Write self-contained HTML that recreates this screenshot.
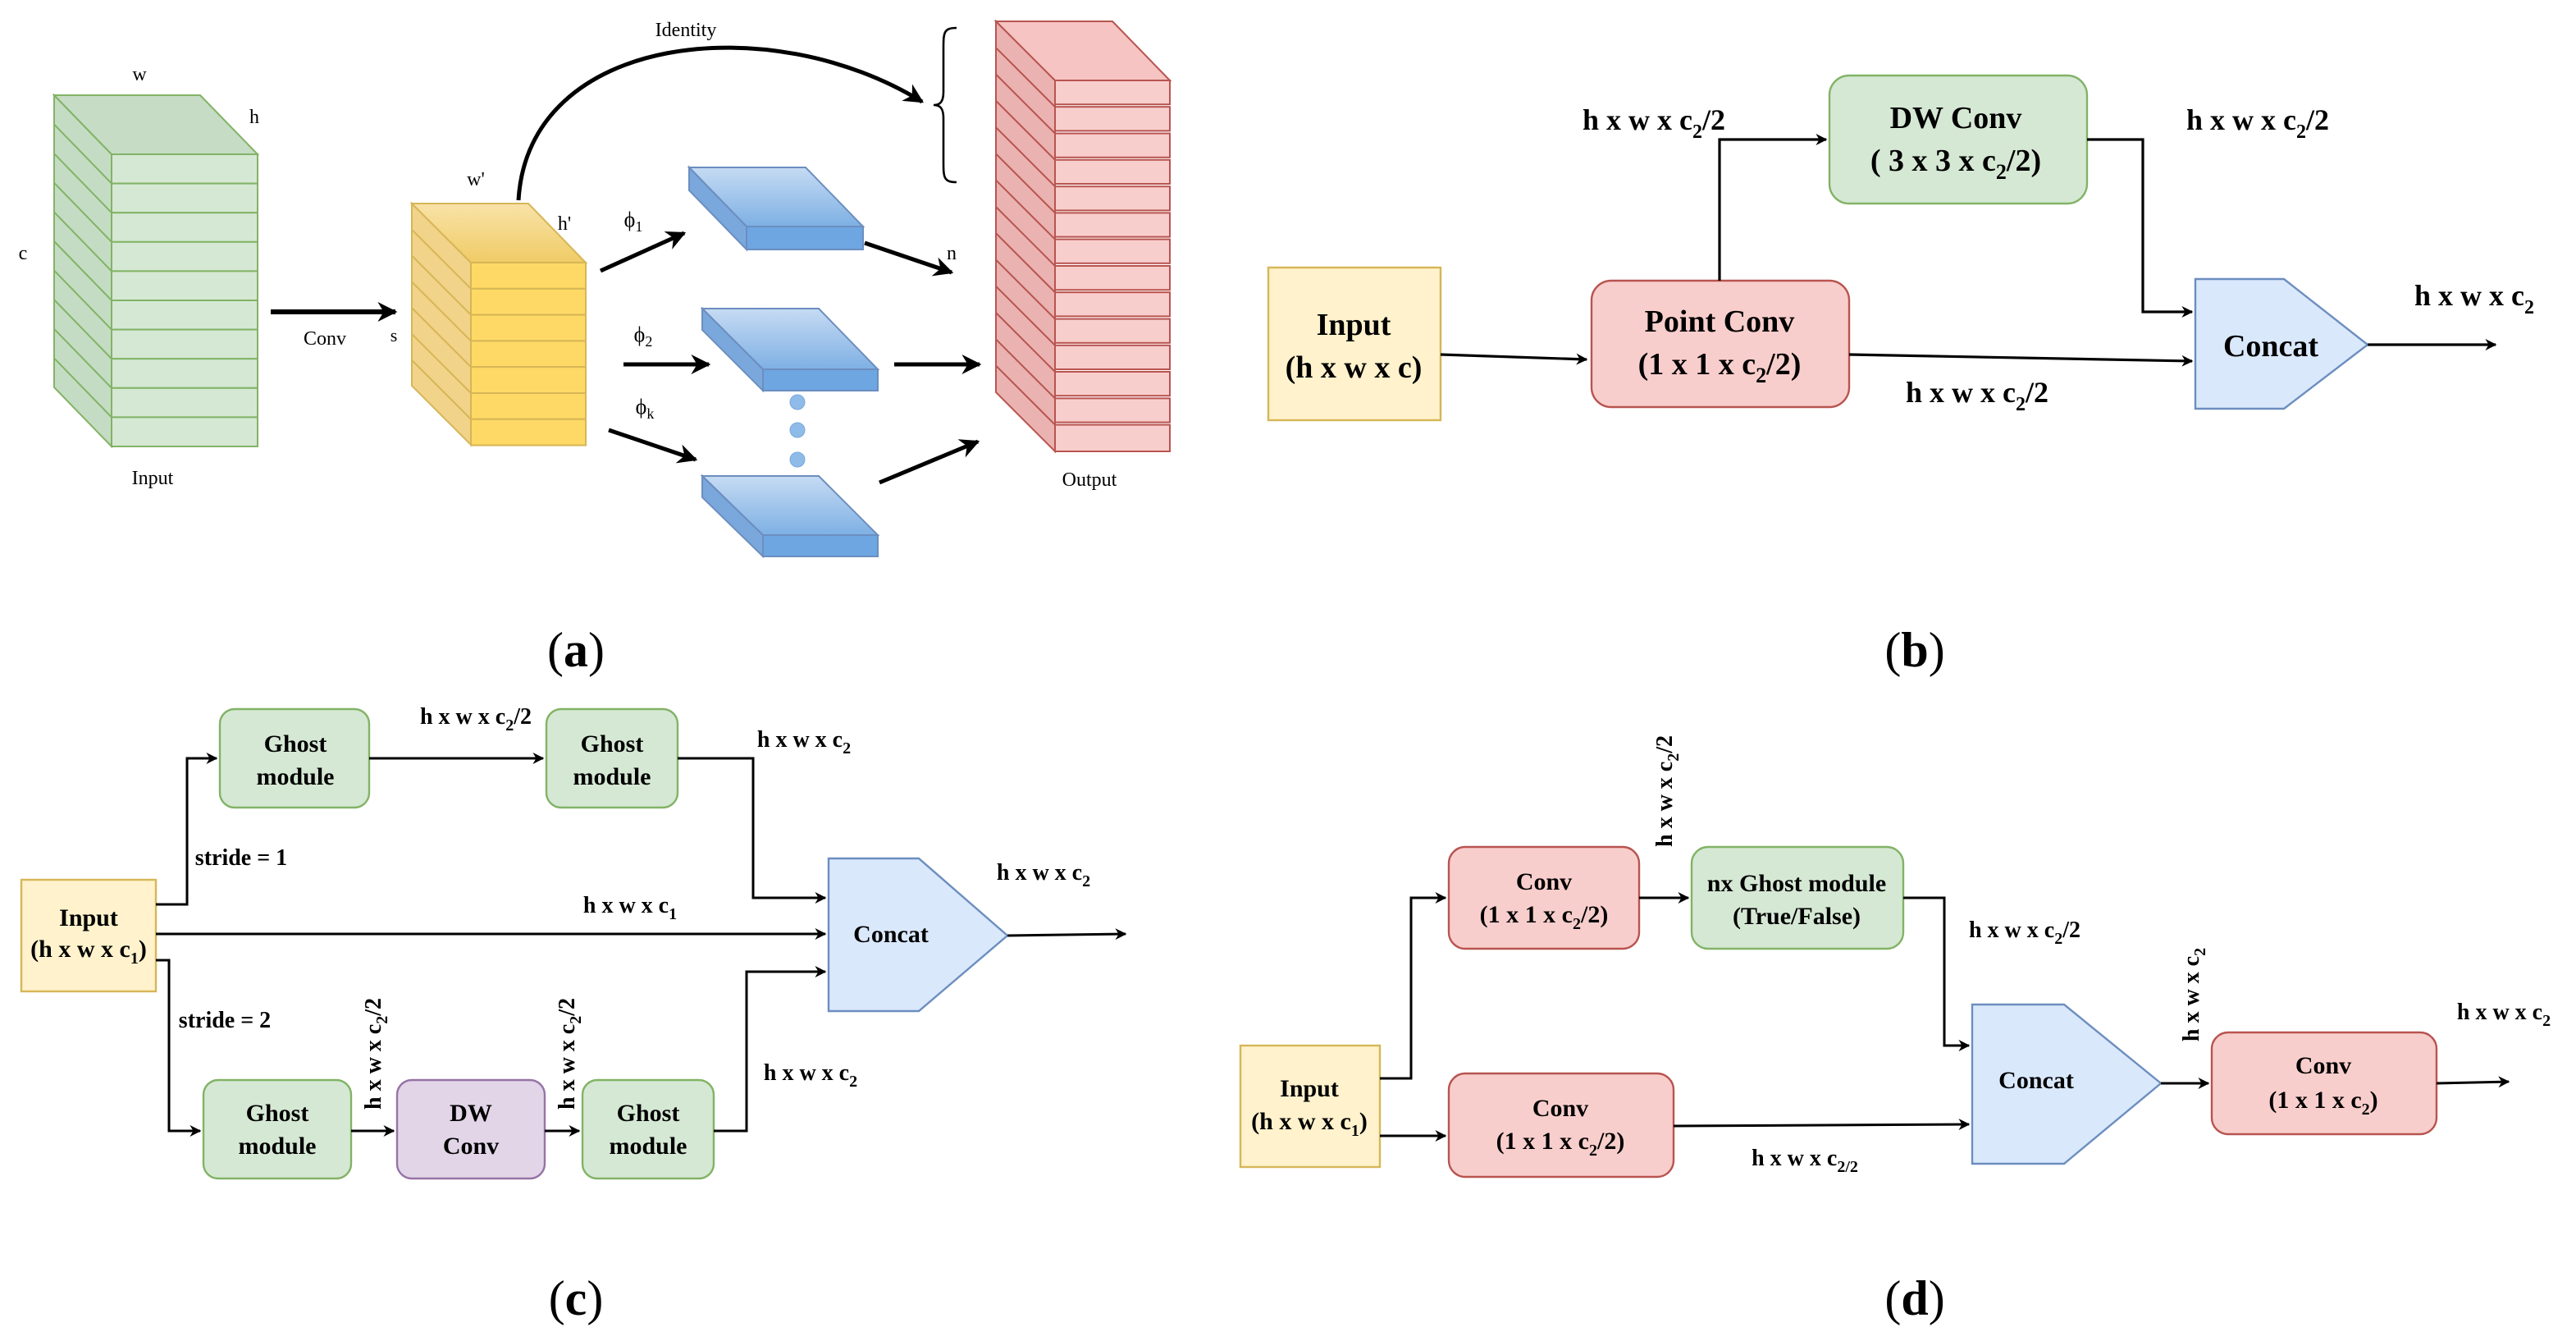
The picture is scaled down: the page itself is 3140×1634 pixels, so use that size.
<!DOCTYPE html>
<html><head><meta charset="utf-8"><style>
html,body{margin:0;padding:0;background:#fff;}
svg{display:block;}
text{font-family:"Liberation Serif",serif;}
.b{font-weight:bold;}
</style></head><body>
<svg width="3140" height="1634" viewBox="0 0 1570 817" xmlns="http://www.w3.org/2000/svg">
<defs>
<marker id="ar" viewBox="0 0 10 10" refX="9" refY="5" markerWidth="7" markerHeight="7" orient="auto" markerUnits="userSpaceOnUse"><path d="M0,0 L10,5 L0,10 L3,5 z" fill="#000"/></marker>
<marker id="ab" viewBox="0 0 10 10" refX="9" refY="5" markerWidth="12" markerHeight="12" orient="auto" markerUnits="userSpaceOnUse"><path d="M0,0 L10,5 L0,10 L3,5 z" fill="#000"/></marker>
<linearGradient id="bl" x1="0" y1="0" x2="0" y2="1"><stop offset="0" stop-color="#c6dbf3"/><stop offset="1" stop-color="#7eb0e4"/></linearGradient>
<linearGradient id="yl" x1="0" y1="0" x2="0" y2="1"><stop offset="0" stop-color="#f8e2a8"/><stop offset="1" stop-color="#f0cc66"/></linearGradient>
</defs>

<!-- ========== (a) ========== -->
<g stroke="#82b366" stroke-width="1" fill="#d5e8d4">
<polygon points="33,58 68,94 68,272 33,236" fill="#c5dcc4"/>
<polygon points="33,58 122,58 157,94 68,94" fill="#c6dcc5"/>
<rect x="68" y="94" width="89" height="17.8"/><rect x="68" y="111.8" width="89" height="17.8"/><rect x="68" y="129.6" width="89" height="17.8"/><rect x="68" y="147.4" width="89" height="17.8"/><rect x="68" y="165.2" width="89" height="17.8"/><rect x="68" y="183" width="89" height="17.8"/><rect x="68" y="200.8" width="89" height="17.8"/><rect x="68" y="218.6" width="89" height="17.8"/><rect x="68" y="236.4" width="89" height="17.8"/><rect x="68" y="254.2" width="89" height="17.8"/>
<path d="M33,75.8 L68,111.8 M33,93.6 L68,129.6 M33,111.4 L68,147.4 M33,129.2 L68,165.2 M33,147 L68,183 M33,164.8 L68,200.8 M33,182.6 L68,218.6 M33,200.4 L68,236.4 M33,218.2 L68,254.2" fill="none"/>
</g>
<text x="85" y="49" font-size="12" text-anchor="middle">w</text>
<text x="155" y="75" font-size="12" text-anchor="middle">h</text>
<text x="14" y="158" font-size="12" text-anchor="middle">c</text>
<text x="93" y="295" font-size="12" text-anchor="middle">Input</text>

<line x1="165" y1="190" x2="241" y2="190" stroke="#000" stroke-width="3" marker-end="url(#ab)"/>
<text x="198" y="210" font-size="12" text-anchor="middle">Conv</text>
<text x="240" y="208" font-size="11" text-anchor="middle">s</text>

<g stroke="#d6b656" stroke-width="1" fill="#ffd966">
<polygon points="251,124 287,160 287,271 251,235" fill="#f2d38a"/>
<polygon points="251,124 322,124 357,160 287,160" fill="url(#yl)"/>
<rect x="287" y="160" width="70" height="15.9"/><rect x="287" y="175.9" width="70" height="15.9"/><rect x="287" y="191.8" width="70" height="15.9"/><rect x="287" y="207.7" width="70" height="15.9"/><rect x="287" y="223.6" width="70" height="15.9"/><rect x="287" y="239.5" width="70" height="15.9"/><rect x="287" y="255.4" width="70" height="15.9"/>
<path d="M251,139.9 L287,175.9 M251,155.8 L287,191.8 M251,171.7 L287,207.7 M251,187.6 L287,223.6 M251,203.5 L287,239.5 M251,219.4 L287,255.4" fill="none"/>
</g>
<text x="290" y="113" font-size="12" text-anchor="middle">w'</text>
<text x="344" y="140" font-size="12" text-anchor="middle">h'</text>

<path d="M316,122 C322,20 470,5 562,62" fill="none" stroke="#000" stroke-width="2.5" marker-end="url(#ab)"/>
<text x="418" y="22" font-size="12" text-anchor="middle">Identity</text>
<path d="M583,17 C575,17 575,20 575,30 L575,56 C575,62 573,64 569,64 C573,64 575,66 575,72 L575,98 C575,108 575,111 583,111" fill="none" stroke="#000" stroke-width="1.3"/>

<!-- blue plates -->
<g stroke="#6c8ebf" stroke-width="1">
<polygon points="420,102 491,102 526,138 455,138" fill="url(#bl)"/><polygon points="420,102 455,138 455,152 420,116" fill="#7aa8dc"/><rect x="455" y="138" width="71" height="14" fill="#6ea6e2"/>
<polygon points="428,188 499,188 535,225 465,225" fill="url(#bl)"/><polygon points="428,188 465,225 465,238 428,201" fill="#7aa8dc"/><rect x="465" y="225" width="70" height="13" fill="#6ea6e2"/>
<polygon points="428,290 499,290 535,326 465,326" fill="url(#bl)"/><polygon points="428,290 465,326 465,339 428,303" fill="#7aa8dc"/><rect x="465" y="326" width="70" height="13" fill="#6ea6e2"/>
</g>
<g fill="#8fbbe8" stroke="#7aa8dc" stroke-width="0.5"><circle cx="486" cy="245" r="4.5"/><circle cx="486" cy="262" r="4.5"/><circle cx="486" cy="280" r="4.5"/></g>

<g stroke="#000" stroke-width="2.5" fill="none">
<line x1="366" y1="165" x2="417" y2="142" marker-end="url(#ab)"/>
<line x1="527" y1="148" x2="580" y2="166" marker-end="url(#ab)"/>
<line x1="380" y1="222" x2="432" y2="222" marker-end="url(#ab)"/>
<line x1="545" y1="222" x2="597" y2="222" marker-end="url(#ab)"/>
<line x1="371" y1="262" x2="424" y2="280" marker-end="url(#ab)"/>
<line x1="536" y1="294" x2="596" y2="269" marker-end="url(#ab)"/>
</g>
<text x="386" y="138" font-size="13" text-anchor="middle">ϕ<tspan font-size="9" dy="3">1</tspan></text>
<text x="392" y="208" font-size="13" text-anchor="middle">ϕ<tspan font-size="9" dy="3">2</tspan></text>
<text x="393" y="252" font-size="13" text-anchor="middle">ϕ<tspan font-size="9" dy="3">k</tspan></text>
<text x="580" y="158" font-size="12" text-anchor="middle">n</text>

<g stroke="#b85450" stroke-width="1" fill="#f8cecc">
<polygon points="607,13 643,49 643,275 607,239" fill="#eab3b1"/>
<polygon points="607,13 678,13 713,49 643,49" fill="#f6c4c2"/>
<rect x="643" y="49" width="70" height="14.6"/><rect x="643" y="65.1" width="70" height="14.6"/><rect x="643" y="81.3" width="70" height="14.6"/><rect x="643" y="97.4" width="70" height="14.6"/><rect x="643" y="113.6" width="70" height="14.6"/><rect x="643" y="129.7" width="70" height="14.6"/><rect x="643" y="145.8" width="70" height="14.6"/><rect x="643" y="162" width="70" height="14.6"/><rect x="643" y="178.1" width="70" height="14.6"/><rect x="643" y="194.3" width="70" height="14.6"/><rect x="643" y="210.4" width="70" height="14.6"/><rect x="643" y="226.5" width="70" height="14.6"/><rect x="643" y="242.7" width="70" height="14.6"/><rect x="643" y="258.8" width="70" height="16.2"/>
<path d="M607,29.1 L643,65.1 M607,45.3 L643,81.3 M607,61.4 L643,97.4 M607,77.6 L643,113.6 M607,93.7 L643,129.7 M607,109.8 L643,145.8 M607,126 L643,162 M607,142.1 L643,178.1 M607,158.3 L643,194.3 M607,174.4 L643,210.4 M607,190.5 L643,226.5 M607,206.7 L643,242.7 M607,222.8 L643,258.8" fill="none"/>
</g>
<text x="664" y="296" font-size="12" text-anchor="middle">Output</text>
<text x="351" y="406" font-size="30" text-anchor="middle">(<tspan class="b">a</tspan>)</text>

<!-- ========== (b) ========== -->
<rect x="773" y="163" width="105" height="93" fill="#fff2cc" stroke="#d6b656" stroke-width="1.2"/>
<text x="825" y="204" font-size="19" class="b" text-anchor="middle">Input</text>
<text x="825" y="230" font-size="19" class="b" text-anchor="middle">(h x w x c)</text>
<rect x="970" y="171" width="157" height="77" rx="12" fill="#f8cecc" stroke="#b85450" stroke-width="1.2"/>
<text x="1048" y="202" font-size="19" class="b" text-anchor="middle">Point Conv</text>
<text x="1048" y="228" font-size="19" class="b" text-anchor="middle">(1 x 1 x c<tspan font-size="13" dy="5">2</tspan><tspan dy="-5">/2)</tspan></text>
<rect x="1115" y="46" width="157" height="78" rx="12" fill="#d5e8d4" stroke="#82b366" stroke-width="1.2"/>
<text x="1192" y="78" font-size="19" class="b" text-anchor="middle">DW Conv</text>
<text x="1192" y="104" font-size="19" class="b" text-anchor="middle">( 3 x 3 x c<tspan font-size="13" dy="5">2</tspan><tspan dy="-5">/2)</tspan></text>
<polygon points="1338,170 1392,170 1443,210 1392,249 1338,249" fill="#dae8fc" stroke="#6c8ebf" stroke-width="1.2"/>
<text x="1384" y="217" font-size="19" class="b" text-anchor="middle">Concat</text>
<g stroke="#000" stroke-width="1.6" fill="none">
<line x1="878" y1="216" x2="967" y2="219" marker-end="url(#ar)"/>
<line x1="1127" y1="216" x2="1336" y2="220" marker-end="url(#ar)"/>
<polyline points="1048,171 1048,85 1113,85" marker-end="url(#ar)"/>
<polyline points="1272,85 1306,85 1306,190 1336,190" marker-end="url(#ar)"/>
<line x1="1443" y1="210" x2="1521" y2="210" marker-end="url(#ar)"/>
</g>
<g font-size="18" class="b" text-anchor="middle">
<text x="1008" y="79">h x w x c<tspan font-size="12" dy="5">2</tspan><tspan dy="-5">/2</tspan></text>
<text x="1376" y="79">h x w x c<tspan font-size="12" dy="5">2</tspan><tspan dy="-5">/2</tspan></text>
<text x="1205" y="245">h x w x c<tspan font-size="12" dy="5">2</tspan><tspan dy="-5">/2</tspan></text>
<text x="1508" y="186">h x w x c<tspan font-size="12" dy="5">2</tspan></text>
</g>
<text x="1167" y="406" font-size="30" text-anchor="middle">(<tspan class="b">b</tspan>)</text>

<!-- ========== (c) ========== -->
<rect x="13" y="536" width="82" height="68" fill="#fff2cc" stroke="#d6b656" stroke-width="1.2"/>
<text x="54" y="564" font-size="15" class="b" text-anchor="middle">Input</text>
<text x="54" y="583" font-size="15" class="b" text-anchor="middle">(h x w x c<tspan font-size="10" dy="4">1</tspan><tspan dy="-4">)</tspan></text>
<g stroke-width="1.2">
<rect x="134" y="432" width="91" height="60" rx="9" fill="#d5e8d4" stroke="#82b366"/>
<rect x="333" y="432" width="80" height="60" rx="9" fill="#d5e8d4" stroke="#82b366"/>
<rect x="124" y="658" width="90" height="60" rx="9" fill="#d5e8d4" stroke="#82b366"/>
<rect x="242" y="658" width="90" height="60" rx="9" fill="#e1d5e7" stroke="#9673a6"/>
<rect x="355" y="658" width="80" height="60" rx="9" fill="#d5e8d4" stroke="#82b366"/>
<polygon points="505,523 560,523 614,570 560,616 505,616" fill="#dae8fc" stroke="#6c8ebf"/>
</g>
<g font-size="15" class="b" text-anchor="middle">
<text x="180" y="458">Ghost</text><text x="180" y="478">module</text>
<text x="373" y="458">Ghost</text><text x="373" y="478">module</text>
<text x="169" y="683">Ghost</text><text x="169" y="703">module</text>
<text x="287" y="683">DW</text><text x="287" y="703">Conv</text>
<text x="395" y="683">Ghost</text><text x="395" y="703">module</text>
<text x="543" y="574">Concat</text>
</g>
<g stroke="#000" stroke-width="1.5" fill="none">
<polyline points="95,551 114,551 114,462 132,462" marker-end="url(#ar)"/>
<line x1="225" y1="462" x2="331" y2="462" marker-end="url(#ar)"/>
<polyline points="413,462 459,462 459,547 503,547" marker-end="url(#ar)"/>
<line x1="95" y1="569" x2="503" y2="569" marker-end="url(#ar)"/>
<polyline points="95,585 103,585 103,689 122,689" marker-end="url(#ar)"/>
<line x1="214" y1="689" x2="240" y2="689" marker-end="url(#ar)"/>
<line x1="332" y1="689" x2="353" y2="689" marker-end="url(#ar)"/>
<polyline points="435,689 455,689 455,592 503,592" marker-end="url(#ar)"/>
<line x1="614" y1="570" x2="686" y2="569" marker-end="url(#ar)"/>
</g>
<g font-size="14" class="b" text-anchor="middle">
<text x="290" y="441">h x w x c<tspan font-size="10" dy="4">2</tspan><tspan dy="-4">/2</tspan></text>
<text x="490" y="455">h x w x c<tspan font-size="10" dy="4">2</tspan></text>
<text x="147" y="527">stride = 1</text>
<text x="384" y="556">h x w x c<tspan font-size="10" dy="4">1</tspan></text>
<text x="636" y="536">h x w x c<tspan font-size="10" dy="4">2</tspan></text>
<text x="137" y="626">stride = 2</text>
<text x="494" y="658">h x w x c<tspan font-size="10" dy="4">2</tspan></text>
<text transform="translate(232,642) rotate(-90)">h x w x c<tspan font-size="10" dy="4">2</tspan><tspan dy="-4">/2</tspan></text>
<text transform="translate(350,642) rotate(-90)">h x w x c<tspan font-size="10" dy="4">2</tspan><tspan dy="-4">/2</tspan></text>
</g>
<text x="351" y="801" font-size="30" text-anchor="middle">(<tspan class="b">c</tspan>)</text>

<!-- ========== (d) ========== -->
<rect x="756" y="637" width="85" height="74" fill="#fff2cc" stroke="#d6b656" stroke-width="1.2"/>
<text x="798" y="668" font-size="15" class="b" text-anchor="middle">Input</text>
<text x="798" y="688" font-size="15" class="b" text-anchor="middle">(h x w x c<tspan font-size="10" dy="4">1</tspan><tspan dy="-4">)</tspan></text>
<g stroke-width="1.2">
<rect x="883" y="516" width="116" height="62" rx="10" fill="#f8cecc" stroke="#b85450"/>
<rect x="1031" y="516" width="129" height="62" rx="10" fill="#d5e8d4" stroke="#82b366"/>
<rect x="883" y="654" width="137" height="63" rx="10" fill="#f8cecc" stroke="#b85450"/>
<rect x="1348" y="629" width="137" height="62" rx="10" fill="#f8cecc" stroke="#b85450"/>
<polygon points="1202,612 1258,612 1317,660 1258,709 1202,709" fill="#dae8fc" stroke="#6c8ebf"/>
</g>
<g font-size="15" class="b" text-anchor="middle">
<text x="941" y="542">Conv</text><text x="941" y="562">(1 x 1 x c<tspan font-size="10" dy="4">2</tspan><tspan dy="-4">/2)</tspan></text>
<text x="1095" y="543">nx Ghost module</text><text x="1095" y="563">(True/False)</text>
<text x="951" y="680">Conv</text><text x="951" y="700">(1 x 1 x c<tspan font-size="10" dy="4">2</tspan><tspan dy="-4">/2)</tspan></text>
<text x="1241" y="663">Concat</text>
<text x="1416" y="654">Conv</text><text x="1416" y="675">(1 x 1 x c<tspan font-size="10" dy="4">2</tspan><tspan dy="-4">)</tspan></text>
</g>
<g stroke="#000" stroke-width="1.5" fill="none">
<polyline points="841,657 860,657 860,547 881,547" marker-end="url(#ar)"/>
<line x1="999" y1="547" x2="1029" y2="547" marker-end="url(#ar)"/>
<polyline points="1160,547 1185,547 1185,637 1200,637" marker-end="url(#ar)"/>
<line x1="841" y1="692" x2="881" y2="692" marker-end="url(#ar)"/>
<line x1="1020" y1="686" x2="1200" y2="685" marker-end="url(#ar)"/>
<line x1="1317" y1="660" x2="1346" y2="660" marker-end="url(#ar)"/>
<line x1="1485" y1="660" x2="1529" y2="659" marker-end="url(#ar)"/>
</g>
<g font-size="14" class="b" text-anchor="middle">
<text transform="translate(1019,482) rotate(-90)">h x w x c<tspan font-size="10" dy="4">2</tspan><tspan dy="-4">/2</tspan></text>
<text x="1234" y="571">h x w x c<tspan font-size="10" dy="4">2</tspan><tspan dy="-4">/2</tspan></text>
<text transform="translate(1340,606) rotate(-90)">h x w x c<tspan font-size="10" dy="4">2</tspan></text>
<text x="1526" y="621">h x w x c<tspan font-size="10" dy="4">2</tspan></text>
<text x="1100" y="710">h x w x c<tspan font-size="10" dy="4">2/2</tspan></text>
</g>
<text x="1167" y="801" font-size="30" text-anchor="middle">(<tspan class="b">d</tspan>)</text>
</svg>
</body></html>
